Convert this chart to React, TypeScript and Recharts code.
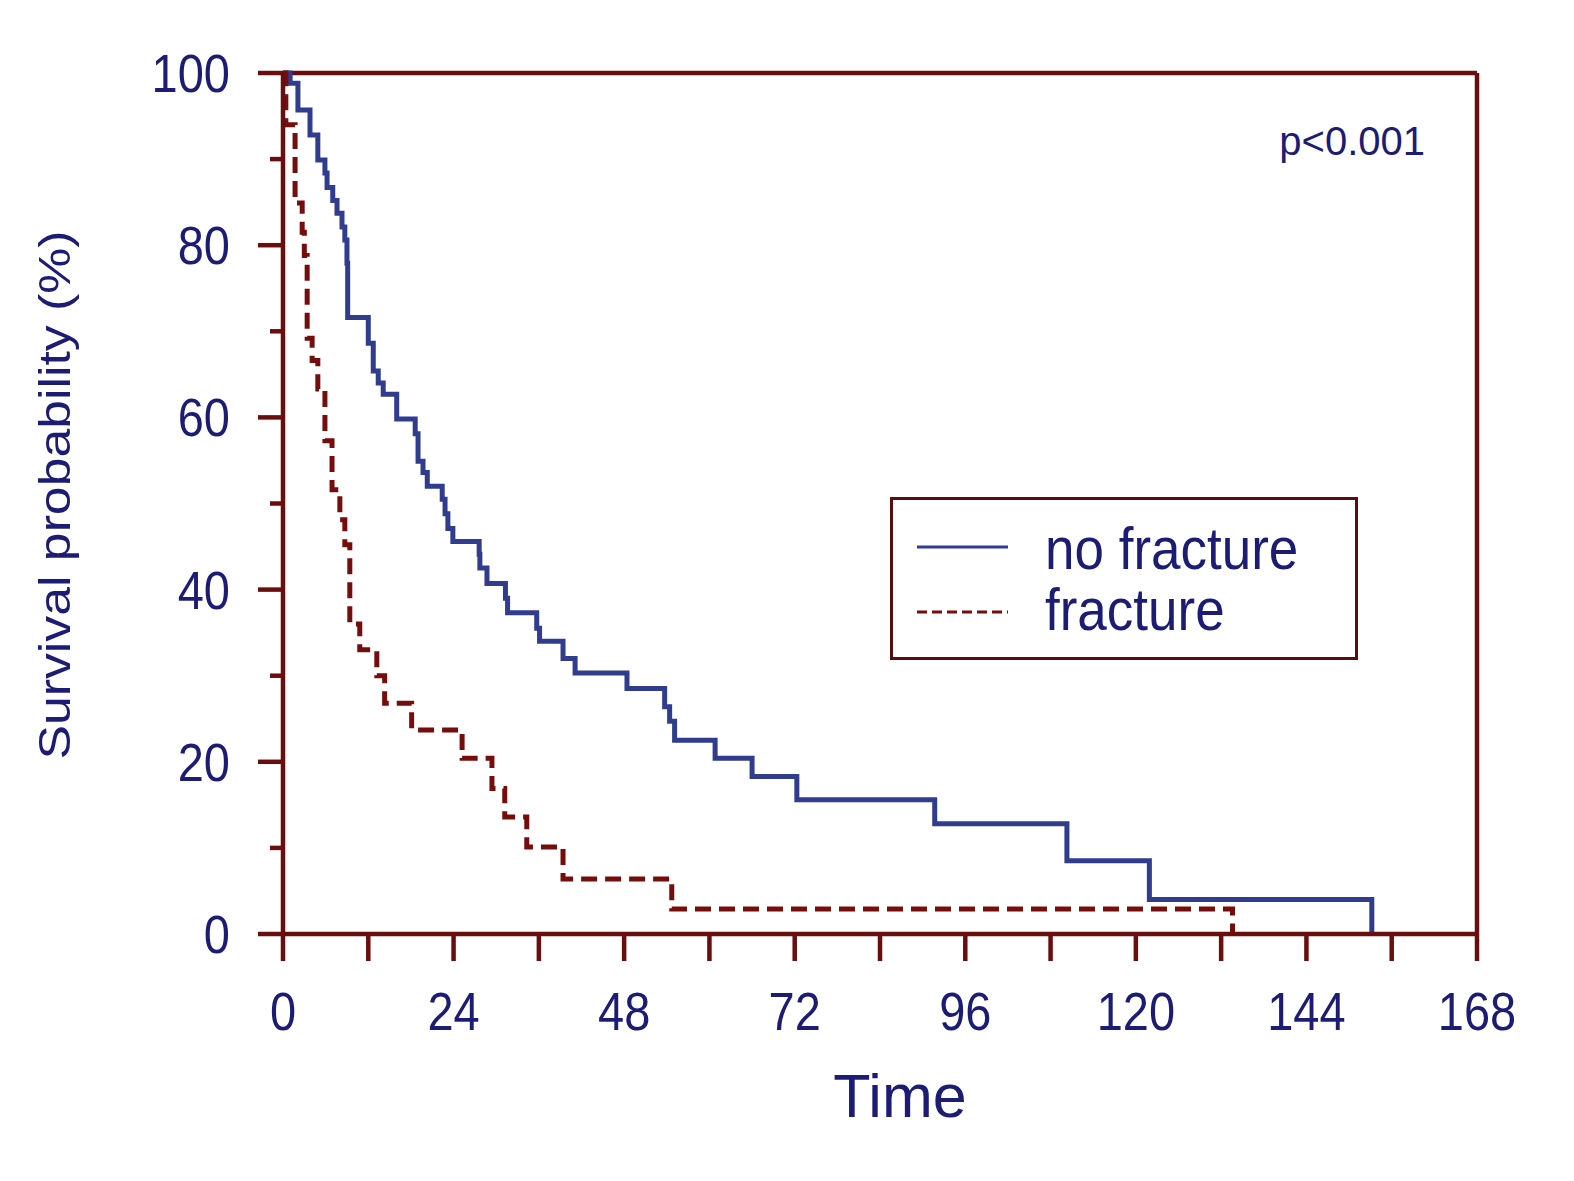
import React from 'react';
import { LineChart, Line, XAxis, YAxis, ReferenceLine, Legend } from 'recharts';

// Kaplan-Meier estimates: time (months) where the step happens, survival (%) after it
const noFractureTime = [
  0, 1.0, 2.1, 3.8, 4.9, 5.9, 6.2, 7.0, 7.6, 8.3, 8.7, 9.0, 9.1, 12.0, 12.7, 13.4, 14.1, 16.0, 18.6, 19.0,
  19.7, 20.3, 22.4, 22.8, 23.2, 23.9, 27.6, 27.7, 28.7, 31.3, 31.6, 35.7, 36.1, 39.4, 41.1, 48.4, 53.7, 54.4,
  55.1, 60.8, 66.0, 72.3, 91.7, 110.3, 121.9, 153.2,
];
const noFractureSurv = [
  100, 98.8, 95.7, 92.8, 89.9, 88.4, 86.7, 85.2, 83.7, 82.1, 80.6, 77.9, 71.6, 68.6, 65.4, 64.0, 62.7, 59.8, 58.1, 54.9,
  53.6, 52.0, 50.5, 48.8, 47.1, 45.6, 44.1, 42.5, 40.7, 39.0, 37.3, 35.5, 34.0, 32.0, 30.3, 28.5, 26.4, 24.7,
  22.5, 20.4, 18.3, 15.6, 12.8, 8.5, 4.0, 0,
];
const fractureTime = [
  0, 0.4, 1.7, 2.7, 3.0, 3.4, 4.1, 4.9, 5.9, 6.9, 8.0, 8.7, 9.4, 10.8, 13.2, 14.3, 18.1, 25.2, 29.4, 31.2,
  34.3, 39.4, 54.7, 133.6,
];
const fractureSurv = [
  100, 94.0, 84.9, 81.5, 78.8, 69.2, 66.6, 63.3, 57.3, 51.6, 48.1, 45.2, 36.0, 33.0, 30.0, 26.8, 23.7, 20.4, 16.9, 13.6,
  10.1, 6.4, 2.9, 0,
];

const xTicks = [0, 12, 24, 36, 48, 60, 72, 84, 96, 108, 120, 132, 144, 156, 168];
const yTicks = [0, 10, 20, 30, 40, 50, 60, 70, 80, 90, 100];

const AXIS = '#6a0d0d';
const TEXT = '#1c1c74';
const BLUE = '#303c8e';
const RED = '#760d0d';
const FONT = '"Liberation Sans", Arial, sans-serif';

const noFracture = noFractureTime.map((t, i) => ({ t, s: noFractureSurv[i] }));
const fracture = fractureTime.map((t, i) => ({ t, s: fractureSurv[i] }));

function YTick({ x, y, payload }: any) {
  const major = payload.value % 20 === 0;
  return (
    <g>
      <line x1={x - (major ? 25 : 13)} x2={x} y1={y} y2={y} stroke={AXIS} strokeWidth={4.5} />
      {major && (
        <text
          transform={`translate(${x - 53},${y + 19}) scale(1,1.13)`}
          textAnchor="end"
          fontSize={47}
          fill={TEXT}
          fontFamily={FONT}
        >
          {payload.value}
        </text>
      )}
    </g>
  );
}

function XTick({ x, y, payload }: any) {
  const labelled = payload.value % 24 === 0;
  return (
    <g>
      <line x1={x} x2={x} y1={y} y2={y + 27} stroke={AXIS} strokeWidth={4.5} />
      {labelled && (
        <text
          transform={`translate(${x},${y + 96}) scale(1,1.13)`}
          textAnchor="middle"
          fontSize={47}
          fill={TEXT}
          fontFamily={FONT}
        >
          {payload.value}
        </text>
      )}
    </g>
  );
}

function LegendBox() {
  return (
    <svg width={468} height={163} style={{ display: 'block' }}>
      <rect x={1.5} y={1.5} width={465} height={160} fill="#fff" stroke="#5c0c0c" strokeWidth={3} />
      <line x1={27} x2={118} y1={50} y2={50} stroke={BLUE} strokeWidth={3} />
      <line x1={27} x2={118} y1={115} y2={115} stroke={RED} strokeWidth={3} strokeDasharray="10 5" />
      <text transform="translate(155,72) scale(1,1.1)" fontSize={53} fill={TEXT} fontFamily={FONT}>
        no fracture
      </text>
      <text transform="translate(155,133) scale(1,1.1)" fontSize={53} fill={TEXT} fontFamily={FONT}>
        fracture
      </text>
    </svg>
  );
}

export default function App() {
  return (
    <div style={{ position: 'absolute', left: 0, top: 0, background: '#fff' }}>
      <LineChart width={1574} height={1181} margin={{ top: 73, right: 97, bottom: 97, left: 0 }}>
        <XAxis
          type="number"
          dataKey="t"
          domain={[0, 168]}
          ticks={xTicks}
          interval={0}
          height={150}
          tickSize={0}
          tickMargin={0}
          tick={<XTick />}
          axisLine={{ stroke: AXIS, strokeWidth: 4.5 }}
          tickLine={false}
          allowDuplicatedCategory={false}
          label={() => (
            <text x={900} y={1117} textAnchor="middle" fontSize={61} fill={TEXT} fontFamily={FONT}>
              Time
            </text>
          )}
        />
        <YAxis
          type="number"
          domain={[0, 100]}
          ticks={yTicks}
          interval={0}
          width={283}
          tickSize={0}
          tickMargin={0}
          tick={<YTick />}
          axisLine={{ stroke: AXIS, strokeWidth: 4.5 }}
          tickLine={false}
          label={() => (
            <text
              transform="translate(70,495) rotate(-90) scale(1.15,1)"
              textAnchor="middle"
              fontSize={45}
              fill={TEXT}
              fontFamily={FONT}
            >
              Survival probability (%)
            </text>
          )}
        />
        <ReferenceLine
          y={100}
          stroke={AXIS}
          strokeWidth={4.5}
          label={({ viewBox }: any) => (
            <text
              x={viewBox.x + viewBox.width - 52}
              y={viewBox.y + 82}
              textAnchor="end"
              fontSize={40}
              fill={TEXT}
              fontFamily={FONT}
            >
              p&lt;0.001
            </text>
          )}
        />
        <ReferenceLine x={168} stroke={AXIS} strokeWidth={4.5} />
        <Line
          data={noFracture}
          dataKey="s"
          name="no fracture"
          type="stepAfter"
          stroke={BLUE}
          strokeWidth={5}
          dot={false}
          activeDot={false}
          isAnimationActive={false}
        />
        <Line
          data={fracture}
          dataKey="s"
          name="fracture"
          type="stepAfter"
          stroke={RED}
          strokeWidth={5}
          strokeDasharray="16 8"
          dot={false}
          activeDot={false}
          isAnimationActive={false}
        />
        <Legend
          layout="horizontal"
          verticalAlign="middle"
          align="center"
          content={() => <LegendBox />}
          wrapperStyle={{ position: 'absolute', left: 890, top: 497, width: 468, height: 163 }}
        />
      </LineChart>
    </div>
  );
}
